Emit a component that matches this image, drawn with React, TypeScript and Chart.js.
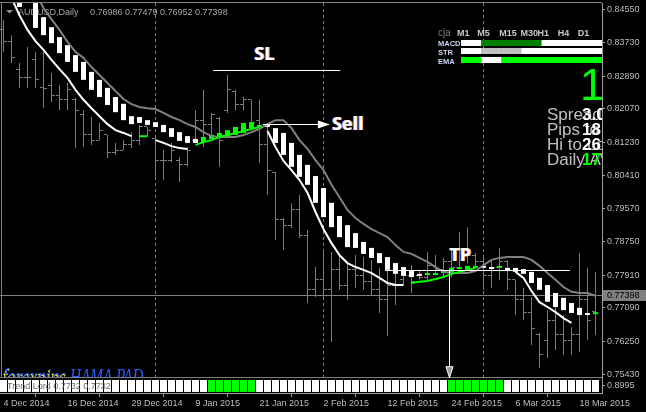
import React, { useEffect, useRef } from 'react';
import { Chart, registerables } from 'chart.js';

Chart.register(...registerables);

// ---------- axes ----------
const xTickBars = [0, 8, 16, 24, 32, 40, 48, 56, 64, 72];
const xTickLabels = ['4 Dec 2014', '16 Dec 2014', '29 Dec 2014', '9 Jan 2015', '21 Jan 2015', '2 Feb 2015', '12 Feb 2015', '24 Feb 2015', '6 Mar 2015', '18 Mar 2015'];
const priceTicks = [0.8455, 0.8373, 0.8289, 0.8207, 0.8123, 0.8041, 0.7957, 0.7875, 0.7791, 0.7709, 0.7625, 0.7543];
const priceMin = 0.75331;
const priceMax = 0.84725;
const barMin = -0.4375;
const barMax = 74.8125;
const periodSeparators = [19, 40, 60];

// ---------- price bars (AUDUSD daily) ----------
const barOpen = [
  0.8405, 0.8375, 0.8305, 0.8287, 0.8330, 0.8260, 0.8267, 0.8242, 0.8230, 0.8230,
  0.8192, 0.8142, 0.8129, 0.8142, 0.8099, 0.8104, 0.8117, 0.8129, 0.8162, 0.8134,
  0.8079, 0.8079, 0.8079, 0.8067, 0.8129, 0.8179, 0.8167, 0.8184, 0.8204, 0.8250,
  0.8217, 0.8230, 0.8179, 0.8117, 0.8049, 0.7929, 0.7916, 0.7954, 0.7891, 0.7754,
  0.7779, 0.7754, 0.7804, 0.7766, 0.7804, 0.7791, 0.7774, 0.7754, 0.7729, 0.7766,
  0.7779, 0.7791, 0.7791, 0.7784, 0.7816, 0.7804, 0.7824, 0.7809, 0.7854, 0.7841,
  0.7824, 0.7791, 0.7809, 0.7824, 0.7779, 0.7729, 0.7698, 0.7641, 0.7628, 0.7678,
  0.7641, 0.7628, 0.7641, 0.7729, 0.76986,
];
const barHigh = [
  0.8430, 0.8392, 0.8322, 0.8362, 0.8350, 0.8350, 0.8297, 0.8267, 0.8272, 0.8235,
  0.8204, 0.8187, 0.8172, 0.8142, 0.8122, 0.8129, 0.8149, 0.8167, 0.8162, 0.8134,
  0.8104, 0.8122, 0.8087, 0.8112, 0.8204, 0.8255, 0.8197, 0.8187, 0.8292, 0.8255,
  0.8237, 0.8230, 0.8230, 0.8167, 0.8049, 0.7934, 0.7971, 0.7992, 0.7904, 0.7811,
  0.7854, 0.7849, 0.7841, 0.7824, 0.7841, 0.7836, 0.7829, 0.7809, 0.7804, 0.7804,
  0.7804, 0.7816, 0.7804, 0.7849, 0.7841, 0.7834, 0.7854, 0.7899, 0.7911, 0.7846,
  0.7834, 0.7829, 0.7859, 0.7828, 0.7779, 0.7759, 0.7736, 0.7646, 0.7703, 0.7724,
  0.7691, 0.7661, 0.7846, 0.7809, 0.7799,
];
const barLow = [
  0.8350, 0.8322, 0.8260, 0.8260, 0.8260, 0.8210, 0.8224, 0.8204, 0.8204, 0.8109,
  0.8112, 0.8117, 0.8129, 0.8084, 0.8092, 0.8104, 0.8109, 0.8117, 0.8139, 0.8037,
  0.8029, 0.8074, 0.8024, 0.8062, 0.8122, 0.8112, 0.8134, 0.8062, 0.8197, 0.8204,
  0.8204, 0.8154, 0.8072, 0.7992, 0.7879, 0.7854, 0.7909, 0.7884, 0.7721, 0.7736,
  0.7729, 0.7623, 0.7754, 0.7729, 0.7759, 0.7754, 0.7741, 0.7696, 0.7638, 0.7716,
  0.7766, 0.7746, 0.7779, 0.7776, 0.7791, 0.7786, 0.7786, 0.7799, 0.7819, 0.7809,
  0.7754, 0.7759, 0.7779, 0.7754, 0.7691, 0.7678, 0.7616, 0.7558, 0.7583, 0.7603,
  0.7591, 0.7591, 0.7598, 0.7628, 0.7641,
];
const barClose = [
  0.8375, 0.8335, 0.8287, 0.8285, 0.8280, 0.8258, 0.8242, 0.8230, 0.8255, 0.8204,
  0.8142, 0.8129, 0.8154, 0.8099, 0.8104, 0.8117, 0.8129, 0.8162, 0.8154, 0.8079,
  0.8077, 0.8104, 0.8067, 0.8104, 0.8179, 0.8167, 0.8192, 0.8129, 0.8255, 0.8217,
  0.8230, 0.8174, 0.8117, 0.8054, 0.7929, 0.7916, 0.7954, 0.7891, 0.7754, 0.7779,
  0.7754, 0.7804, 0.7766, 0.7804, 0.7791, 0.7774, 0.7754, 0.7729, 0.7766, 0.7741,
  0.7791, 0.7774, 0.7784, 0.7816, 0.7804, 0.7824, 0.7809, 0.7854, 0.7841, 0.7824,
  0.7791, 0.7809, 0.7824, 0.7779, 0.7729, 0.7698, 0.7658, 0.7591, 0.7678, 0.7641,
  0.7628, 0.7641, 0.7729, 0.7678, 0.77398,
];

// ---------- HAMA (smoothed Heiken Ashi) ----------
const haOpen = [
  0.8530, 0.8520, 0.8500, 0.8500, 0.8485, 0.8437, 0.8412, 0.8387, 0.8367, 0.8342,
  0.8325, 0.8300, 0.8280, 0.8260, 0.8237, 0.8220, 0.8189, 0.8187, 0.8179, 0.8174,
  0.8167, 0.8159, 0.8149, 0.8139, 0.8132, 0.8124, 0.8132, 0.8134, 0.8137, 0.8142,
  0.8147, 0.8159, 0.8162, 0.8169, 0.8159, 0.8147, 0.8122, 0.8092, 0.8067, 0.8039,
  0.8009, 0.7972, 0.7939, 0.7916, 0.7896, 0.7874, 0.7859, 0.7846, 0.7836, 0.7821,
  0.7811, 0.7801, 0.7794, 0.7791, 0.7791, 0.7796, 0.7799, 0.7806, 0.7806, 0.7809,
  0.7811, 0.7811, 0.7809, 0.7809, 0.7809, 0.7806, 0.7799, 0.7784, 0.7766, 0.7746,
  0.7734, 0.7721, 0.7709, 0.7696, 0.7693,
];
const haClose = [
  0.8505, 0.8495, 0.84625, 0.8485, 0.8410, 0.8392, 0.8372, 0.8347, 0.8325, 0.8300,
  0.8280, 0.8255, 0.8237, 0.8217, 0.8199, 0.8179, 0.8169, 0.8172, 0.8167, 0.8162,
  0.8149, 0.8137, 0.8127, 0.8122, 0.8122, 0.8137, 0.8142, 0.8147, 0.8154, 0.8162,
  0.8172, 0.8174, 0.8167, 0.8162, 0.8122, 0.8092, 0.8062, 0.8037, 0.8017, 0.7972,
  0.7936, 0.7911, 0.7886, 0.7861, 0.7859, 0.7844, 0.7834, 0.7821, 0.7804, 0.7794,
  0.7789, 0.7786, 0.7789, 0.7796, 0.7796, 0.7801, 0.7809, 0.7811, 0.7814, 0.7814,
  0.7809, 0.7806, 0.7814, 0.7801, 0.7799, 0.7794, 0.7771, 0.7754, 0.7724, 0.7711,
  0.7703, 0.7696, 0.7691, 0.7691, 0.7696,
];

// ---------- envelope lines ----------
const maUpper = [
  0.8630, 0.8600, 0.8570, 0.8540, 0.8500, 0.8460, 0.8432, 0.8405, 0.8375, 0.8350,
  0.8335, 0.8312, 0.8292, 0.8272, 0.8252, 0.8232, 0.8219, 0.8212, 0.8209, 0.8207,
  0.8197, 0.8187, 0.8179, 0.8169, 0.8162, 0.8149, 0.8139, 0.8137, 0.8137, 0.8137,
  0.8142, 0.8149, 0.8157, 0.8169, 0.8179, 0.8179, 0.8159, 0.8129, 0.8107, 0.8079,
  0.8054, 0.8017, 0.7986, 0.7954, 0.7934, 0.7919, 0.7906, 0.7896, 0.7886, 0.7866,
  0.7849, 0.7844, 0.7834, 0.7824, 0.7811, 0.7799, 0.7796, 0.7796, 0.7796, 0.7801,
  0.7816, 0.7829, 0.7834, 0.7836, 0.7836, 0.7836, 0.7829, 0.7814, 0.7796, 0.7779,
  0.7761, 0.7749, 0.7746, 0.7746, 0.7739,
];
const lowerWhite = [
  0.8518, 0.8485, 0.8442, 0.8405, 0.8377, 0.8355, 0.8330, 0.8307, 0.8285, 0.8255,
  0.8230, 0.8209, 0.8189, 0.8169, 0.8154, 0.8147, 0.8139, null, null, 0.8129,
  0.8122, 0.8114, 0.8109, 0.8107, null, null, null, null, null, null,
  null, null, null, 0.8152, 0.8112, 0.8077, 0.8054, 0.8029, 0.7997, 0.7949,
  0.7906, 0.7871, 0.7841, 0.7821, 0.7811, 0.7804, 0.7796, 0.7784, 0.7771, 0.7766,
  0.7766, null, null, null, null, null, null, null, null, null,
  null, null, null, null, 0.7799, 0.7784, 0.7751, 0.7723, 0.7711, 0.7698,
  0.7683, 0.7671, null, null, null,
];
const lowerGreen = [
  null, null, null, null, null, null, null, null, null, null,
  null, null, null, null, null, null, null, 0.8139, 0.8139, null,
  null, null, null, null, 0.8117, 0.8124, 0.8129, 0.8137, 0.8142, 0.8147,
  0.8152, 0.8157, 0.8162, null, null, null, null, null, null, null,
  null, null, null, null, null, null, null, null, null, null,
  null, 0.7771, 0.7774, 0.7776, 0.7781, 0.7786, 0.7794, 0.7799, 0.7804, 0.7809,
  null, null, null, null, null, null, null, null, null, null,
  null, null, null, null, null,
];

// ---------- Trend Lord sub-window ----------
const tlTrend = [
  0, 0, 0, 0, 0, 0, 0, 0, 0, 0,
  0, 0, 0, 0, 0, 0, 0, 0, 0, 0,
  0, 0, 0, 0, 0, 0, 1, 1, 1, 1,
  1, 1, 0, 0, 0, 0, 0, 0, 0, 0,
  0, 0, 0, 0, 0, 0, 0, 0, 0, 0,
  0, 0, 0, 0, 0, 0, 1, 1, 1, 1,
  1, 1, 1, 0, 0, 0, 0, 0, 0, 0,
  0, 0, 0, 0, 0,
];
const tlCellSpan = [0.07, 0.87];
const tlAxisLabel = '0.8995';
const tlTitle = 'Trend Lord 0.7732 0.7732';

// ---------- drawn objects (time / price anchored) ----------
const slLine = { price: 0.8304, fromBar: 26.2, toBar: 42.1 };
const sellArrow = { price: 0.8168, fromBar: 32.4, toBar: 40.8 };
const tpLine = { price: 0.7802, fromBar: 47.7, toBar: 70.8 };
const tpArrow = { bar: 55.7, fromPrice: 0.7802, toPrice: 0.7534 };
const tradeLabels = [
  { text: 'SL', bar: 32.6, price: 0.8343, align: 'center' },
  { text: 'Sell', bar: 41.05, price: 0.8167, align: 'left' },
  { text: 'TP', bar: 57.1, price: 0.7838, align: 'center' },
];

// ---------- texts / dashboard ----------
const headerSymbol = 'AUDUSD,Daily';
const headerValues = ['0.76986', '0.77479', '0.76952', '0.77398'];
const cjaTitle = 'cja';
const cjaTimeframes = ['M1', 'M5', 'M15', 'M30', 'H1', 'H4', 'D1'];
const cjaRowNames = ['MACD', 'STR', 'EMA'];
const cjaMacd = ['#ffffff', '#008000', '#008000', '#008000', '#ffffff', '#ffffff', '#ffffff'];
const cjaStr = ['#ffffff', '#c0c0c0', '#c0c0c0', '#ffffff', '#ffffff', '#ffffff', '#ffffff'];
const cjaEma = ['#00ff00', '#ffffff', '#00ff00', '#00ff00', '#00ff00', '#00ff00', '#00ff00'];
const cjaSignal = '1';
const infoLabels = ['Spread', 'Pips to Open', 'Hi to Low', 'Daily AV'];
const infoValues = ['3.0', '18', '26', '17'];
const infoValueColors = ['#ffffff', '#ffffff', '#ffffff', '#00ff00'];
const watermarkA = 'forexpips';
const watermarkB = 'HAMA PAD';

const SANS = '"Liberation Sans", Arial, sans-serif';
const GRAY = '#808080';
const AXIS_TEXT = '#bdbdbd';

function fringeText(ctx: CanvasRenderingContext2D, text: string, x: number, y: number) {
  ctx.fillStyle = '#3f74ff';
  ctx.fillText(text, x - 1, y);
  ctx.fillStyle = '#ff9b3a';
  ctx.fillText(text, x + 1, y);
  ctx.fillStyle = '#ffffff';
  ctx.fillText(text, x, y);
}

const overlayPlugin = {
  id: 'mt4Overlay',
  beforeDraw(chart: any) {
    const { ctx, width, height } = chart;
    ctx.save();
    ctx.fillStyle = '#000000';
    ctx.fillRect(0, 0, width, height);
    ctx.restore();
  },
  beforeDatasetsDraw(chart: any) {
    const { ctx, chartArea: ca } = chart;
    const xs = chart.scales.x;
    const ys = chart.scales.y;
    ctx.save();
    // panel frame
    ctx.strokeStyle = GRAY;
    ctx.lineWidth = 1;
    ctx.beginPath();
    ctx.moveTo(ca.left, ys.top - 0.5);
    ctx.lineTo(ca.right, ys.top - 0.5);
    ctx.moveTo(ca.left + 1.5, ys.top);
    ctx.lineTo(ca.left + 1.5, ys.bottom);
    ctx.moveTo(ca.left, ys.bottom - 0.5);
    ctx.lineTo(ca.right, ys.bottom - 0.5);
    ctx.stroke();

    ctx.beginPath();
    ctx.rect(ca.left, ys.top, ca.right - ca.left, ys.bottom - ys.top - 1);
    ctx.clip();

    // period separators
    ctx.setLineDash([3, 3]);
    for (const s of periodSeparators) {
      const x = Math.floor(xs.getPixelForValue(s)) + 0.5;
      ctx.beginPath();
      ctx.moveTo(x, ys.top);
      ctx.lineTo(x, ys.bottom);
      ctx.stroke();
    }
    ctx.setLineDash([]);

    // current price line
    const cp = barClose[barClose.length - 1];
    const yp = Math.floor(ys.getPixelForValue(cp)) + 0.5;
    ctx.beginPath();
    ctx.moveTo(ca.left, yp);
    ctx.lineTo(ca.right, yp);
    ctx.stroke();

    // header
    ctx.fillStyle = '#909090';
    ctx.beginPath();
    ctx.moveTo(6, 10);
    ctx.lineTo(13, 10);
    ctx.lineTo(9.5, 13.5);
    ctx.closePath();
    ctx.fill();
    ctx.font = `9px ${SANS}`;
    ctx.fillStyle = '#a8a8a8';
    ctx.textBaseline = 'alphabetic';
    ctx.textAlign = 'left';
    ctx.fillText(headerSymbol, 18, 15);
    ctx.fillText(headerValues.join(' '), 90, 15);

    // open / close ticks of the bars
    ctx.fillStyle = '#7c7c7c';
    for (let i = 0; i < barOpen.length; i++) {
      const x = xs.getPixelForValue(i);
      const yo = Math.floor(ys.getPixelForValue(barOpen[i]));
      const yc = Math.floor(ys.getPixelForValue(barClose[i]));
      ctx.fillRect(x - 3.5, yo, 3, 1);
      ctx.fillRect(x + 0.5, yc, 3, 1);
    }

    // watermark (cut by the sub-window)
    ctx.font = `italic 23px "Liberation Serif", serif`;
    ctx.save();
    ctx.translate(3, 383.5);
    ctx.scale(0.75, 1);
    ctx.fillStyle = '#ffff00';
    ctx.fillText(watermarkA, -1, 1);
    ctx.fillStyle = '#2f5bff';
    ctx.fillText(watermarkA, 0, 0);
    ctx.restore();
    ctx.save();
    ctx.translate(70, 383.5);
    ctx.scale(0.66, 1);
    ctx.fillStyle = '#2f5bff';
    ctx.fillText(watermarkB, 0, 0);
    ctx.restore();
    ctx.restore();
  },
  afterDatasetsDraw(chart: any) {
    const { ctx, chartArea: ca } = chart;
    const xs = chart.scales.x;
    const ys = chart.scales.y;
    const yt = chart.scales.yTL;
    const px = (b: number) => xs.getPixelForValue(b);
    const py = (p: number) => ys.getPixelForValue(p);

    ctx.save();
    ctx.beginPath();
    ctx.rect(ca.left, ys.top, ca.right - ca.left, ys.bottom - ys.top);
    ctx.clip();
    ctx.strokeStyle = '#ffffff';
    ctx.fillStyle = '#ffffff';
    ctx.lineWidth = 1;

    // SL line
    let y = Math.floor(py(slLine.price)) + 0.5;
    ctx.beginPath();
    ctx.moveTo(px(slLine.fromBar), y);
    ctx.lineTo(px(slLine.toBar), y);
    ctx.stroke();

    // Sell arrow
    y = Math.floor(py(sellArrow.price)) + 0.5;
    const tip = px(sellArrow.toBar);
    ctx.beginPath();
    ctx.moveTo(px(sellArrow.fromBar), y);
    ctx.lineTo(tip - 10, y);
    ctx.stroke();
    ctx.beginPath();
    ctx.moveTo(tip - 12, y - 4);
    ctx.lineTo(tip, y);
    ctx.lineTo(tip - 12, y + 4);
    ctx.closePath();
    ctx.fill();

    // TP line
    y = Math.floor(py(tpLine.price)) + 0.5;
    ctx.beginPath();
    ctx.moveTo(px(tpLine.fromBar), y);
    ctx.lineTo(px(tpLine.toBar), y);
    ctx.stroke();

    // TP arrow (down)
    const ax = Math.floor(px(tpArrow.bar)) + 0.5;
    const ay0 = py(tpArrow.fromPrice);
    const ay1 = py(tpArrow.toPrice);
    ctx.beginPath();
    ctx.moveTo(ax, ay0);
    ctx.lineTo(ax, ay1 - 11);
    ctx.stroke();
    ctx.beginPath();
    ctx.moveTo(ax - 3.5, ay1 - 11);
    ctx.lineTo(ax + 3.5, ay1 - 11);
    ctx.lineTo(ax, ay1);
    ctx.closePath();
    ctx.fillStyle = '#9a9a9a';
    ctx.fill();
    ctx.stroke();

    // trade labels
    ctx.font = `bold 18px "Open Sans", ${SANS}`;
    ctx.textBaseline = 'middle';
    for (const l of tradeLabels) {
      ctx.textAlign = l.align as CanvasTextAlign;
      fringeText(ctx, l.text, px(l.bar), py(l.price));
    }
    ctx.restore();

    // dashboard (top-right corner of the main window)
    ctx.save();
    ctx.beginPath();
    ctx.rect(ca.left, ys.top, ca.right - ca.left, ys.bottom - ys.top);
    ctx.clip();
    const colW = 20.14;
    const col0 = ca.right - colW * cjaTimeframes.length;
    ctx.textAlign = 'left';
    ctx.textBaseline = 'alphabetic';
    ctx.font = `10px ${SANS}`;
    ctx.fillStyle = '#7c7c7c';
    ctx.fillText(cjaTitle, col0 - 23, 35.5);
    ctx.font = `bold 9px ${SANS}`;
    ctx.fillStyle = '#c8c8c8';
    cjaTimeframes.forEach((t, k) => {
      ctx.fillText(t, col0 + k * colW - 4 + (k === 2 ? 2 : k === 3 ? 3 : 0), 35.5);
    });
    const rows = [cjaMacd, cjaStr, cjaEma];
    const rowY = [40, 48, 57];
    const rowLabelY = [45.5, 54.5, 63.5];
    ctx.font = `bold 7.5px ${SANS}`;
    rows.forEach((r, j) => {
      r.forEach((c, k) => {
        ctx.fillStyle = c;
        ctx.fillRect(col0 + k * colW, rowY[j], colW + 0.5, 6);
      });
      ctx.fillStyle = '#c9d3f0';
      ctx.fillText(cjaRowNames[j], col0 - 23, rowLabelY[j]);
    });
    // signal
    ctx.font = `44px ${SANS}`;
    ctx.fillStyle = '#00ff00';
    ctx.fillText(cjaSignal, ca.right - 22, 100);
    // info lines
    infoLabels.forEach((t, k) => {
      const by = 120 + k * 15;
      ctx.font = `17px ${SANS}`;
      ctx.fillStyle = '#c0c0c0';
      ctx.fillText(t, ca.right - 55, by);
      ctx.font = `bold 17px ${SANS}`;
      ctx.fillStyle = infoValueColors[k];
      ctx.fillText(infoValues[k], ca.right - 20, by);
    });
    ctx.restore();

    // Trend Lord title
    ctx.save();
    ctx.font = `9px ${SANS}`;
    ctx.fillStyle = '#6a6a6a';
    ctx.textAlign = 'left';
    ctx.textBaseline = 'middle';
    ctx.fillText(tlTitle, ca.left + 7, (yt.top + yt.bottom) / 2 + 1);
    ctx.restore();
  },
  afterDraw(chart: any) {
    const { ctx, chartArea: ca } = chart;
    const ys = chart.scales.y;
    const cp = barClose[barClose.length - 1];
    const y = ys.getPixelForValue(cp);
    ctx.save();
    ctx.fillStyle = GRAY;
    ctx.fillRect(ca.right + 1, Math.round(y) - 5, 43, 11);
    ctx.fillStyle = '#000000';
    ctx.font = `9px ${SANS}`;
    ctx.textAlign = 'left';
    ctx.textBaseline = 'middle';
    ctx.fillText(cp.toFixed(5), ca.right + 5, Math.round(y) + 0.5);
    ctx.restore();
  },
};

export default function App() {
  const ref = useRef<HTMLCanvasElement | null>(null);
  useEffect(() => {
    document.body.style.margin = '0';
    document.body.style.background = '#000';
    const canvas = ref.current;
    if (!canvas) return;
    const idx = barOpen.map((_, i) => i);
    const barCommon = {
      grouped: false,
      inflateAmount: 0,
      borderWidth: 0,
      categoryPercentage: 1,
      barPercentage: 1,
      xAxisID: 'x',
    };
    const chart = new Chart(canvas, {
      type: 'line',
      data: {
        datasets: [
          {
            ...barCommon,
            type: 'bar',
            label: 'High-Low',
            data: idx.map((i) => ({ x: i, y: [barLow[i], barHigh[i]] })),
            backgroundColor: '#7c7c7c',
            maxBarThickness: 1,
            yAxisID: 'y',
            order: 10,
          },
          {
            ...barCommon,
            type: 'bar',
            label: 'HAMA',
            data: idx.map((i) => ({ x: i, y: [haOpen[i], haClose[i]] })),
            backgroundColor: idx.map((i) => (haClose[i] > haOpen[i] ? '#00ff00' : '#ffffff')),
            maxBarThickness: 5,
            minBarLength: 2,
            yAxisID: 'y',
            order: 5,
          },
          {
            type: 'line',
            label: 'Upper',
            data: idx.map((i) => ({ x: i, y: maUpper[i] })),
            borderColor: '#808080',
            borderWidth: 2,
            pointRadius: 0,
            tension: 0,
            yAxisID: 'y',
            order: 4,
          },
          {
            type: 'line',
            label: 'Lower down',
            data: idx.map((i) => ({ x: i, y: lowerWhite[i] })),
            borderColor: '#ffffff',
            borderWidth: 2,
            pointRadius: 0,
            tension: 0,
            spanGaps: false,
            yAxisID: 'y',
            order: 3,
          },
          {
            type: 'line',
            label: 'Lower up',
            data: idx.map((i) => ({ x: i, y: lowerGreen[i] })),
            borderColor: '#00ff00',
            borderWidth: 2,
            pointRadius: 0,
            tension: 0,
            spanGaps: false,
            yAxisID: 'y',
            order: 2,
          },
          {
            ...barCommon,
            type: 'bar',
            label: 'Trend Lord',
            data: idx.map((i) => ({ x: i, y: tlCellSpan })),
            backgroundColor: idx.map((i) => (tlTrend[i] ? '#00ff00' : '#ffffff')),
            maxBarThickness: 7,
            yAxisID: 'yTL',
            order: 1,
          },
        ] as any,
      },
      options: {
        animation: false,
        responsive: false,
        maintainAspectRatio: false,
        devicePixelRatio: 1,
        events: [],
        layout: { padding: { top: 3, left: 0, right: 0, bottom: 0 } },
        plugins: { legend: { display: false }, tooltip: { enabled: false } },
        scales: {
          x: {
            type: 'linear',
            min: barMin,
            max: barMax,
            offset: false,
            position: 'bottom',
            afterBuildTicks: (a: any) => {
              a.ticks = xTickBars.map((v) => ({ value: v }));
            },
            afterFit: (a: any) => {
              a.height = 19;
              a.paddingLeft = 0;
              a.paddingRight = 0;
            },
            grid: { display: true, drawOnChartArea: false, drawTicks: true, tickLength: 4, color: '#a0a0a0' },
            border: { display: true, color: '#a0a0a0' },
            ticks: {
              autoSkip: false,
              maxRotation: 0,
              minRotation: 0,
              align: 'start',
              padding: 1,
              color: AXIS_TEXT,
              font: { family: SANS, size: 9 },
              callback: (_v: any, i: number) => xTickLabels[i],
            },
          },
          y: {
            type: 'linear',
            position: 'right',
            stack: 'pane',
            stackWeight: 375,
            min: priceMin,
            max: priceMax,
            beginAtZero: false,
            offset: false,
            afterBuildTicks: (a: any) => {
              a.ticks = priceTicks.map((v) => ({ value: v }));
            },
            afterFit: (a: any) => {
              a.width = 44;
              a.paddingTop = 0;
              a.paddingBottom = 0;
            },
            grid: { display: true, drawOnChartArea: false, drawTicks: true, tickLength: 3, color: '#a0a0a0' },
            border: { display: true, color: '#a0a0a0' },
            ticks: {
              autoSkip: false,
              padding: 2,
              color: AXIS_TEXT,
              font: { family: SANS, size: 9 },
              callback: (v: any) => Number(v).toFixed(5),
            },
          },
          yTL: {
            type: 'linear',
            position: 'right',
            stack: 'pane',
            stackWeight: 15,
            min: 0,
            max: 1,
            offset: false,
            afterBuildTicks: (a: any) => {
              a.ticks = [{ value: 0.5 }];
            },
            afterFit: (a: any) => {
              a.width = 44;
              a.paddingTop = 0;
              a.paddingBottom = 0;
            },
            grid: { display: true, drawOnChartArea: false, drawTicks: true, tickLength: 3, color: '#a0a0a0' },
            border: { display: true, color: '#a0a0a0' },
            ticks: {
              autoSkip: false,
              padding: 2,
              color: AXIS_TEXT,
              font: { family: SANS, size: 9 },
              callback: () => tlAxisLabel,
            },
          },
        } as any,
      },
      plugins: [overlayPlugin],
    });
    return () => chart.destroy();
  }, []);
  return (
    <div style={{ width: 646, height: 412, background: '#000' }}>
      <canvas ref={ref} width={646} height={412} style={{ display: 'block' }} />
    </div>
  );
}
